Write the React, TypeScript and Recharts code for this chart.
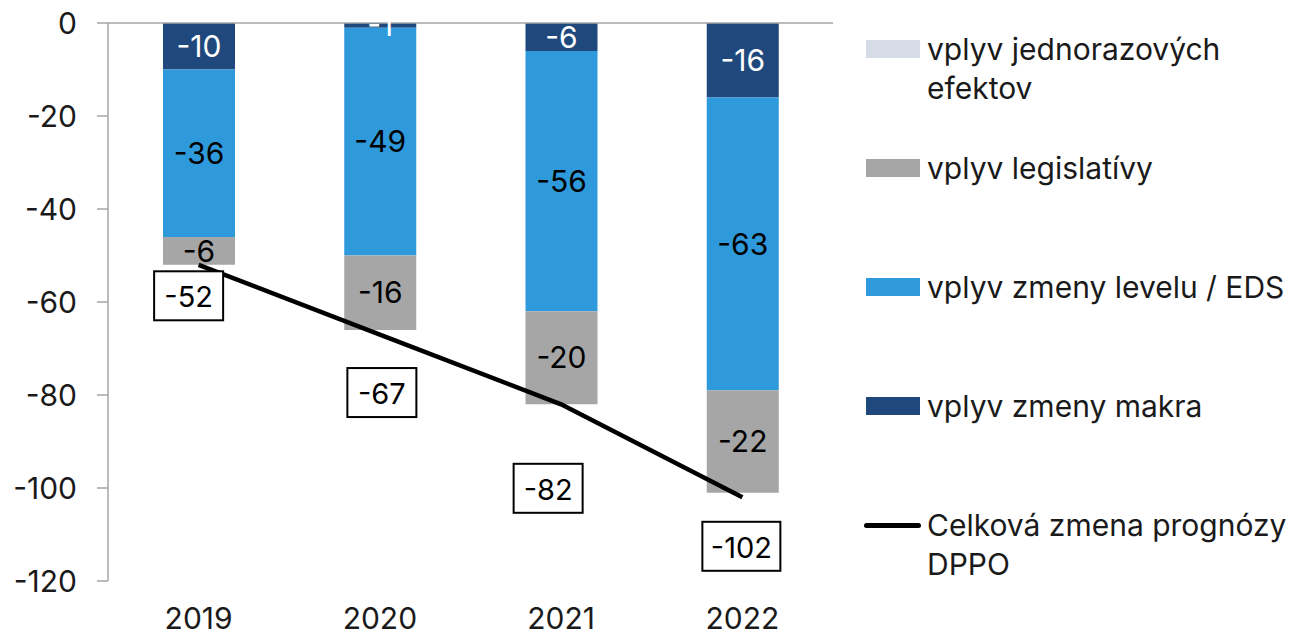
import { Bar, ComposedChart, LabelList, Legend, Line, XAxis, YAxis } from 'recharts';

const years = ['2019', '2020', '2021', '2022'];
const makroImpact = [-10, -1, -6, -16];
const levelImpact = [-36, -49, -56, -63];
const legislationImpact = [-6, -16, -20, -22];
const oneOffImpact = [0, 0, 0, 0];
const totalChange = [-52, -67, -82, -102];
const yTicks = [0, -20, -40, -60, -80, -100, -120];

// total labels were nudged by hand so they sit clear of the bars
const totalLabelShift = [
    { dx: -10, dy: 31 },
    { dx: 2, dy: 58 },
    { dx: -13, dy: 84 },
    { dx: -1, dy: 49 },
];

const FONT = 'Inter, "Liberation Sans", Arial, sans-serif';

const COLORS = {
    oneOff: '#D5DCE6',
    legislation: '#A6A6A6',
    level: '#2E9ADB',
    makro: '#1F497D',
    total: '#000000',
};

const SERIES_NAMES: Record<string, string> = {
    oneOff: 'vplyv jednorazových efektov',
    legislation: 'vplyv legislatívy',
    level: 'vplyv zmeny levelu / EDS',
    makro: 'vplyv zmeny makra',
    total: 'Celková zmena prognózy DPPO',
};

const LEGEND_ORDER = ['oneOff', 'legislation', 'level', 'makro', 'total'];

const data = years.map((year, i) => ({
    year,
    makro: makroImpact[i],
    level: levelImpact[i],
    legislation: legislationImpact[i],
    oneOff: oneOffImpact[i],
    total: totalChange[i],
}));

function TotalLabel(props: any) {
    const { x, y, value, index } = props;
    if (x == null || y == null) return null;
    const shift = totalLabelShift[index] ?? { dx: 0, dy: 40 };
    const text = String(value);
    const w = 42 + 9 * text.length;
    const h = 49;
    const cx = x + shift.dx;
    const cy = y + shift.dy;
    return (
        <g>
            <rect
                x={cx - w / 2}
                y={cy - h / 2}
                width={w}
                height={h}
                fill="#fff"
                stroke="#000"
                strokeWidth={2}
            />
            <text
                x={cx}
                y={cy + 1}
                textAnchor="middle"
                dominantBaseline="central"
                fontSize={29}
                fontFamily={FONT}
                fill="#000"
            >
                {text}
            </text>
        </g>
    );
}

function LegendList({ payload }: any) {
    const items = LEGEND_ORDER.map((key) =>
        (payload ?? []).find((p: any) => p.dataKey === key),
    ).filter(Boolean);
    return (
        <div style={{ fontFamily: FONT, fontSize: 30 }}>
            {items.map((item: any) => {
                const key = item.dataKey as string;
                const isLine = key === 'total';
                return (
                    <div
                        key={key}
                        style={{
                            position: 'relative',
                            height: 119,
                            lineHeight: '39px',
                        }}
                    >
                        {isLine ? (
                            <div
                                style={{
                                    position: 'absolute',
                                    left: 4,
                                    top: 17,
                                    width: 57,
                                    height: 5,
                                    borderRadius: 3,
                                    background: COLORS.total,
                                }}
                            />
                        ) : (
                            <div
                                style={{
                                    position: 'absolute',
                                    left: 6,
                                    top: 10,
                                    width: 54,
                                    height: 18,
                                    background: COLORS[key as keyof typeof COLORS],
                                }}
                            />
                        )}
                        <div
                            style={{
                                position: 'absolute',
                                left: 67,
                                top: 0,
                                width: 367,
                                color: '#1a1a1a',
                            }}
                        >
                            {SERIES_NAMES[key]}
                        </div>
                    </div>
                );
            })}
        </div>
    );
}

export default function App() {
    return (
        <div style={{ position: 'absolute', left: 0, top: 0, background: '#fff' }}>
            <ComposedChart
                width={1294}
                height={635}
                data={data}
                margin={{ top: 23, right: 461, bottom: 14, left: 8 }}
                barSize={72}
            >
                <XAxis
                    dataKey="year"
                    axisLine={false}
                    tickLine={false}
                    height={40}
                    tickMargin={21}
                    tick={{ fontSize: 30, fill: '#1a1a1a', fontFamily: FONT }}
                />
                {/* zero line across the top with marks between the years */}
                <XAxis
                    xAxisId="edge"
                    type="number"
                    orientation="top"
                    mirror
                    domain={[0, 4]}
                    ticks={[1, 2, 3, 4]}
                    allowDataOverflow
                    tick={false}
                    tickSize={11}
                    axisLine={{ stroke: '#A6A6A6', strokeWidth: 1.5 }}
                    tickLine={{ stroke: '#A6A6A6', strokeWidth: 1.5 }}
                />
                <YAxis
                    width={100}
                    domain={[-120, 0]}
                    ticks={yTicks}
                    interval={0}
                    tickSize={11}
                    tickMargin={20}
                    axisLine={{ stroke: '#A6A6A6', strokeWidth: 1.5 }}
                    tickLine={{ stroke: '#A6A6A6', strokeWidth: 1.5 }}
                    tick={{ fontSize: 30, fill: '#1a1a1a', fontFamily: FONT }}
                />
                <Legend
                    layout="horizontal"
                    align="center"
                    verticalAlign="middle"
                    content={<LegendList />}
                    wrapperStyle={{ left: 860, top: 30, width: 434 }}
                />
                <Bar dataKey="makro" stackId="a" fill={COLORS.makro} isAnimationActive={false}>
                    <LabelList
                        dataKey="makro"
                        position="center"
                        fill="#fff"
                        fontSize={30}
                        fontFamily={FONT}
                    />
                </Bar>
                <Bar dataKey="level" stackId="a" fill={COLORS.level} isAnimationActive={false}>
                    <LabelList
                        dataKey="level"
                        position="center"
                        fill="#000"
                        fontSize={30}
                        fontFamily={FONT}
                    />
                </Bar>
                <Bar
                    dataKey="legislation"
                    stackId="a"
                    fill={COLORS.legislation}
                    isAnimationActive={false}
                >
                    <LabelList
                        dataKey="legislation"
                        position="center"
                        fill="#000"
                        fontSize={30}
                        fontFamily={FONT}
                    />
                </Bar>
                <Bar dataKey="oneOff" stackId="a" fill={COLORS.oneOff} isAnimationActive={false} />
                <Line
                    dataKey="total"
                    type="linear"
                    stroke={COLORS.total}
                    strokeWidth={4.5}
                    dot={false}
                    activeDot={false}
                    label={<TotalLabel />}
                    isAnimationActive={false}
                />
            </ComposedChart>
        </div>
    );
}
